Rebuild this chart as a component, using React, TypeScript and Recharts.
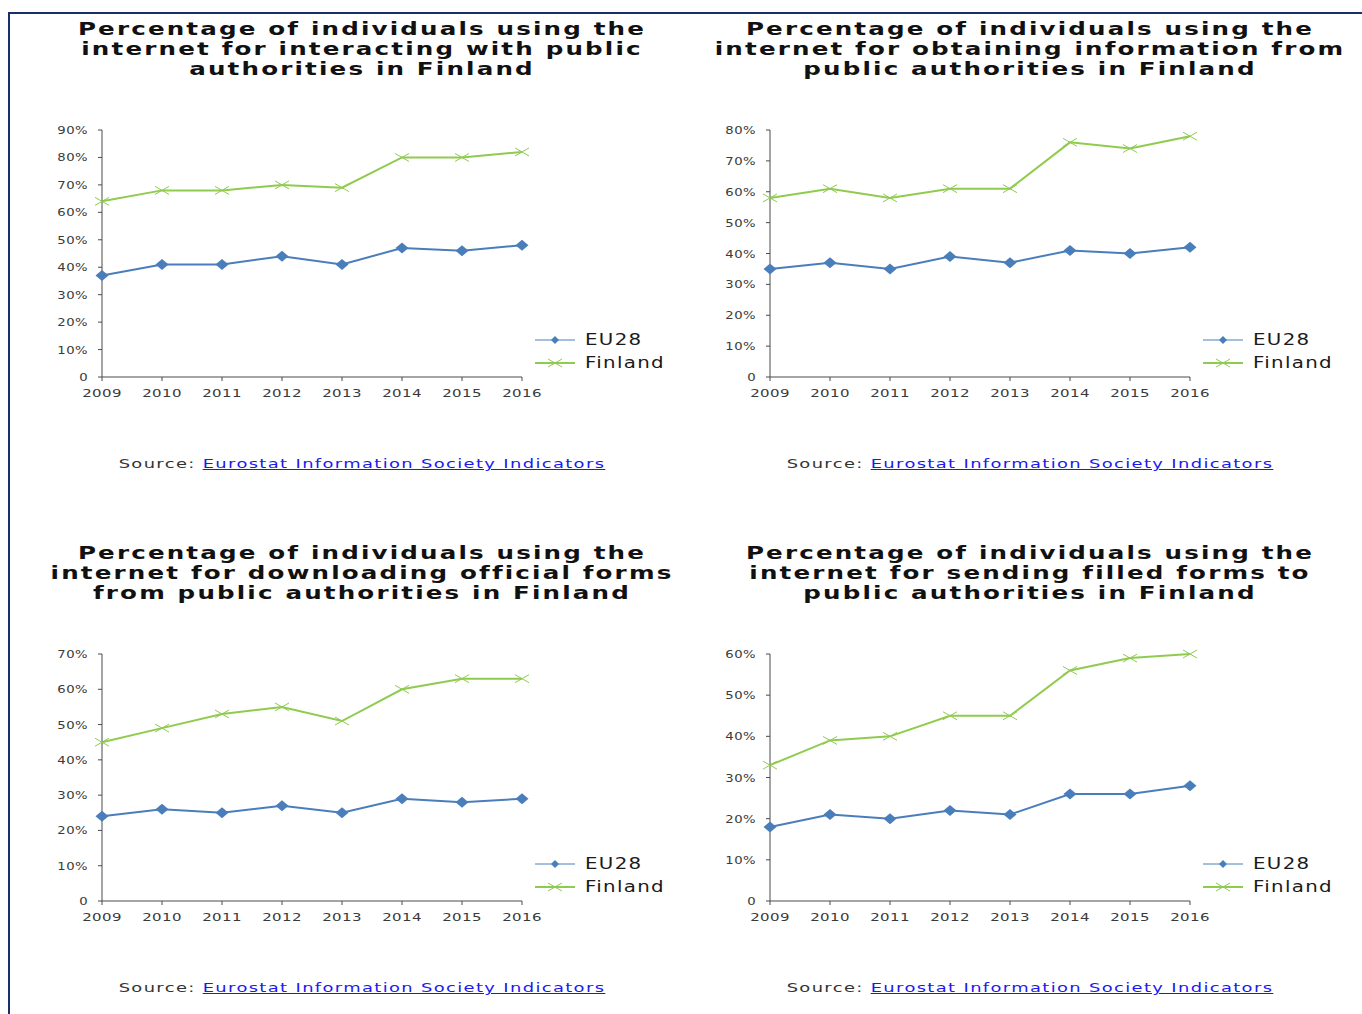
import { Legend, Line, LineChart, XAxis, YAxis } from "recharts"

const YEARS = ["2009", "2010", "2011", "2012", "2013", "2014", "2015", "2016"]

const EU_INTERACT = [37, 41, 41, 44, 41, 47, 46, 48]
const FI_INTERACT = [64, 68, 68, 70, 69, 80, 80, 82]

const EU_OBTAIN = [35, 37, 35, 39, 37, 41, 40, 42]
const FI_OBTAIN = [58, 61, 58, 61, 61, 76, 74, 78]

const EU_DOWNLOAD = [24, 26, 25, 27, 25, 29, 28, 29]
const FI_DOWNLOAD = [45, 49, 53, 55, 51, 60, 63, 63]

const EU_SEND = [18, 21, 20, 22, 21, 26, 26, 28]
const FI_SEND = [33, 39, 40, 45, 45, 56, 59, 60]

const TICKS_90 = [0, 10, 20, 30, 40, 50, 60, 70, 80, 90]
const TICKS_80 = [0, 10, 20, 30, 40, 50, 60, 70, 80]
const TICKS_70 = [0, 10, 20, 30, 40, 50, 60, 70]
const TICKS_60 = [0, 10, 20, 30, 40, 50, 60]

const BLUE = "#4a7ebb"
const GREEN = "#8fcb4e"
const AXIS = "#4a4a4a"
const FONT = "'DejaVu Sans', Verdana, sans-serif"

const build = (eu: number[], fi: number[]) =>
    YEARS.map((year, i) => ({ year, EU28: eu[i], Finland: fi[i] }))

const diamond = (props: any) => {
    const { cx, cy, index } = props
    if (cx == null || cy == null) return <g key={`d-${index}`} />
    return <path key={`d-${index}`} d={`M${cx},${cy - 5.5}L${cx + 6.5},${cy}L${cx},${cy + 5.5}L${cx - 6.5},${cy}Z`} fill={BLUE} />
}

const cross = (props: any) => {
    const { cx, cy, index } = props
    if (cx == null || cy == null) return <g key={`x-${index}`} />
    return (
        <path key={`x-${index}`} d={`M${cx - 7},${cy - 4}L${cx + 7},${cy + 4}M${cx - 7},${cy + 4}L${cx + 7},${cy - 4}`}
            stroke={GREEN} strokeWidth={1} fill="none" />
    )
}

const XTick = (props: any) => {
    const { x, y, payload } = props
    return (
        <text transform={`translate(${x},${y + 16}) scale(1.36,1)`} textAnchor="middle"
            fill="#3a3a3a" fontSize={11} fontFamily={FONT} letterSpacing={0.3}>{payload.value}</text>
    )
}

const YTick = (props: any) => {
    const { x, y, payload } = props
    const v = payload.value
    return (
        <text transform={`translate(${x},${y + 4}) scale(1.2,1)`} textAnchor="end"
            fill="#3a3a3a" fontSize={11} fontFamily={FONT} letterSpacing={0.4}>{v === 0 ? "0" : `${v}%`}</text>
    )
}

const renderLegend = () => (
    <div style={{ fontFamily: FONT, color: "#1a1a1a" }}>
        {[{ name: "EU28", color: BLUE, diamond: true }, { name: "Finland", color: GREEN, diamond: false }].map(item =>
            <div key={item.name} style={{ display: "flex", alignItems: "center", height: 23 }}>
                <svg width={40} height={12}>
                    <line x1={0} y1={6} x2={40} y2={6} stroke={item.color} strokeWidth={item.diamond ? 1 : 2} />
                    {item.diamond
                        ? <path d="M20,2L24,6L20,10L16,6Z" fill={item.color} />
                        : <path d="M13,2L27,10M13,10L27,2" stroke={item.color} strokeWidth={1} />}
                </svg>
                <span style={{
                    marginLeft: 10, fontSize: 15, letterSpacing: 1, display: "inline-block",
                    transform: "scaleX(1.32)", transformOrigin: "left center"
                }}>{item.name}</span>
            </div>
        )}
    </div>
)

type PanelProps = {
    x: number
    y: number
    title: string[]
    eu: number[]
    fi: number[]
    ticks: number[]
}

function Panel({ x, y, title, eu, fi, ticks }: PanelProps) {
    const data = build(eu, fi)
    return (
        <>
            <div style={{
                position: "absolute", left: x + 12, top: y + 19, width: 700, textAlign: "center",
                fontFamily: FONT, fontWeight: "bold", fontSize: 17, lineHeight: "20px", letterSpacing: 1.5, color: "#111",
                transform: "scaleX(1.445)"
            }}>
                {title.map(t => <div key={t}>{t}</div>)}
            </div>
            <div style={{ position: "absolute", left: x + 40, top: y + 120 }}>
                <LineChart width={640} height={300} data={data} margin={{ top: 10, right: 158, bottom: 13, left: 0 }}>
                    <XAxis dataKey="year" height={30} stroke={AXIS} tickSize={4} tickMargin={0}
                        tick={XTick} interval={0} />
                    <YAxis width={62} domain={[0, ticks[ticks.length - 1]]} ticks={ticks} interval={0} stroke={AXIS}
                        tickSize={4} tickMargin={10} tick={YTick} />
                    <Legend layout="vertical" align="center" verticalAlign="middle" content={renderLegend}
                        wrapperStyle={{ left: 495, top: 208, width: "auto" }} />
                    <Line dataKey="EU28" stroke={BLUE} strokeWidth={2} dot={diamond} isAnimationActive={false} />
                    <Line dataKey="Finland" stroke={GREEN} strokeWidth={2} dot={cross} isAnimationActive={false} />
                </LineChart>
            </div>
            <div style={{
                position: "absolute", left: x + 12, top: y + 456, width: 700, textAlign: "center",
                fontFamily: FONT, fontSize: 13, lineHeight: "16px", letterSpacing: 1, transform: "scaleX(1.374)"
            }}>
                <span style={{ color: "#333" }}>Source: </span>
                <span style={{ color: "#1a1aee", textDecoration: "underline" }}>Eurostat Information Society Indicators</span>
            </div>
        </>
    )
}

export default function App() {
    return (
        <div style={{ position: "fixed", left: 0, top: 0, width: 1362, height: 1014, background: "#fff", overflow: "hidden" }}>
            <div style={{ position: "absolute", left: 8, top: 12, width: 1360, height: 1010, borderTop: "2px solid #17306a", borderLeft: "2px solid #17306a" }} />
            <Panel x={0} y={0} eu={EU_INTERACT} fi={FI_INTERACT} ticks={TICKS_90}
                title={["Percentage of individuals using the", "internet for interacting with public", "authorities in Finland"]} />
            <Panel x={668} y={0} eu={EU_OBTAIN} fi={FI_OBTAIN} ticks={TICKS_80}
                title={["Percentage of individuals using the", "internet for obtaining information from", "public authorities in Finland"]} />
            <Panel x={0} y={524} eu={EU_DOWNLOAD} fi={FI_DOWNLOAD} ticks={TICKS_70}
                title={["Percentage of individuals using the", "internet for downloading official forms", "from public authorities in Finland"]} />
            <Panel x={668} y={524} eu={EU_SEND} fi={FI_SEND} ticks={TICKS_60}
                title={["Percentage of individuals using the", "internet for sending filled forms to", "public authorities in Finland"]} />
        </div>
    )
}
